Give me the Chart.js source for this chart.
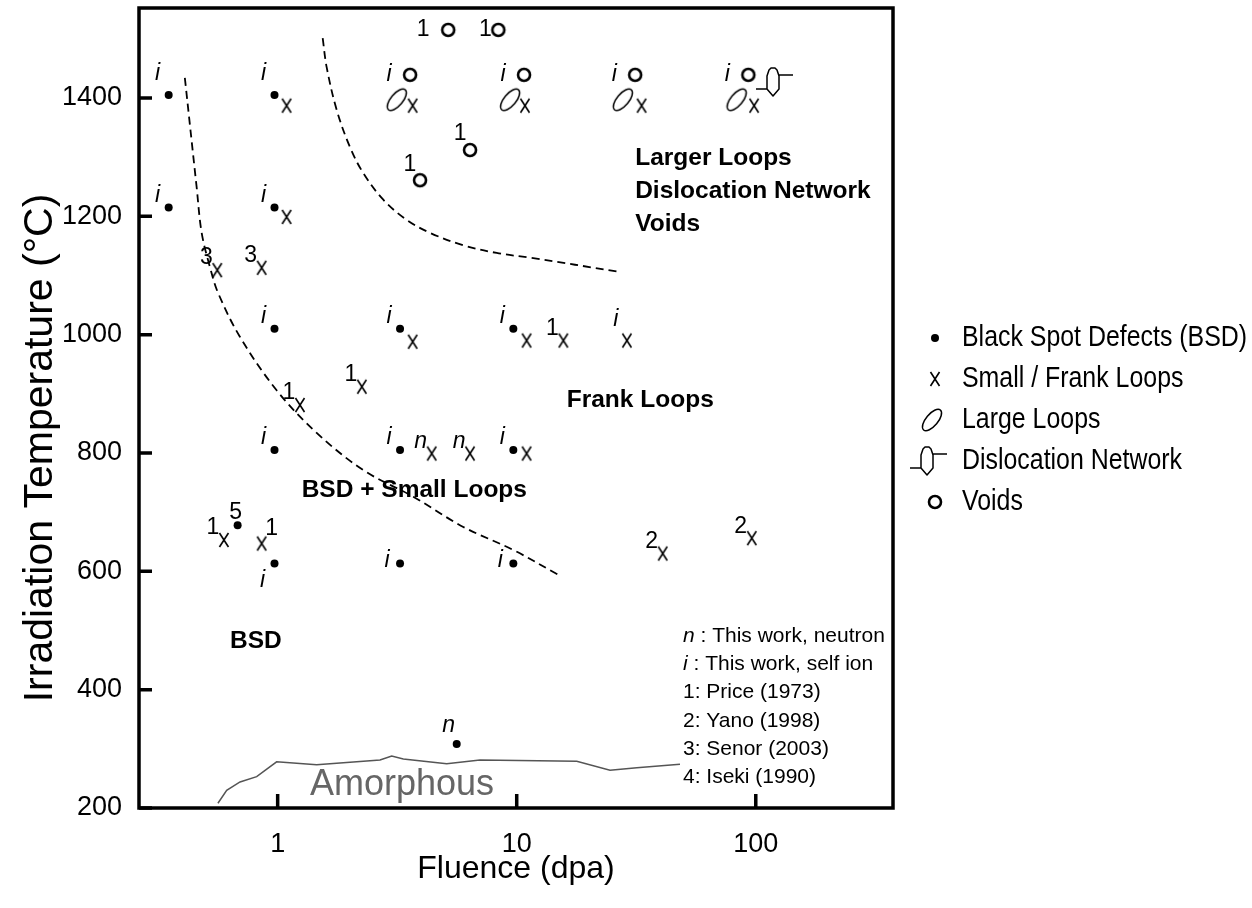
<!DOCTYPE html>
<html lang="en">
<head>
<meta charset="UTF-8">
<title>Irradiation Temperature vs Fluence</title>
<script src="https://cdn.jsdelivr.net/npm/chart.js"></script>
<style>
  html, body { margin: 0; padding: 0; background: #ffffff; }
  #chart { display: block; }
</style>
</head>
<body>
<canvas id="chart" width="1252" height="908"></canvas>
<script>
// fluence (dpa) and irradiation temperature (C) for each observed defect type
const bsdX = [0.35, 0.97, 0.35, 0.97, 0.97, 3.25, 9.68, 0.97, 3.25, 9.68, 0.68, 0.97, 3.25, 9.68, 5.61];
const bsdY = [1405, 1405, 1215, 1215, 1010, 1010, 1010, 805, 805, 805, 678, 613, 613, 613, 308];
const bsdTag = ['i', 'i', 'i', 'i', 'i', 'i', 'i', 'i', 'i', 'i', '5', 'i', 'i', 'i', 'n'];
const bsdTagAt = ['nwh', 'nwh', 'nw', 'nw', 'nw', 'nw', 'nw', 'nw', 'nw', 'nw', 'n', 'sw', 'w', 'w', 'nn'];

const loopX = [1.09, 3.67, 10.83, 33.3, 98.4, 1.09, 0.559, 0.857, 3.67, 11.0, 15.67, 28.9, 2.25, 1.24, 4.41, 6.38, 11.0, 0.596, 0.857, 40.8, 96.2];
const loopY = [1387, 1387, 1387, 1387, 1387, 1199, 1109, 1113, 988, 990, 990, 990, 912, 881, 799, 799, 799, 653, 647, 630, 656];
const loopTag = ['', '', '', '', '', '', '3', '3', '', '', '1', 'i', '1', '1', 'n', 'n', '', '1', '1', '2', '2'];
const loopTagAt = ['', '', '', '', '', '', 'nw', 'nw', '', '', 'nw', 'nwh', 'nw', 'nw', 'nw', 'nw', '', 'nw', 'ne', 'nw', 'nw'];

const largeX = [3.15, 9.38, 27.8, 83.2];
const largeY = [1397, 1397, 1397, 1397];

const netX = [118];
const netY = [1427];

const voidX = [3.58, 10.73, 31.3, 93.1, 5.17, 8.38, 6.38, 3.94];
const voidY = [1439, 1439, 1439, 1439, 1515, 1515, 1312, 1261];
const voidTag = ['i', 'i', 'i', 'i', '1', '1', '1', '1'];
const voidTagAt = ['w2', 'w2', 'w2', 'w2', 'w3', 'w1', 'nwv', 'nwv'];

// regime boundaries and the amorphization limit
const upperBoundX = [1.543, 1.603, 1.765, 2.006, 2.281, 2.766, 3.465, 4.337, 5.977, 8.25, 11.37, 27.05];
const upperBoundY = [1501, 1452, 1380, 1317, 1273, 1228, 1194, 1172, 1151, 1138, 1130, 1106];
const lowerBoundX = [0.409, 0.458, 0.481, 0.521, 0.564, 0.696, 0.990, 1.456, 2.281, 3.693, 5.977, 9.68, 14.93];
const lowerBoundY = [1434, 1250, 1172, 1114, 1070, 996, 906, 834, 771, 726, 675, 636, 594];
const amorphX = [0.5625, 0.612, 0.696, 0.817, 0.990, 1.456, 2.68, 3.0, 3.354, 5.095, 7.02, 17.83, 24.56, 31.8, 48.2];
const amorphY = [208, 230, 244, 253, 278, 273, 281, 288, 283, 275, 281, 279, 264, 268, 274];

const xTicks = [1, 10, 100];
const xTickLabels = ['1', '10', '100'];
const yTicks = [200, 400, 600, 800, 1000, 1200, 1400];
const yTickLabels = ['200', '400', '600', '800', '1000', '1200', '1400'];

const legendLabels = ['Black Spot Defects (BSD)', 'Small / Frank Loops', 'Large Loops', 'Dislocation Network', 'Voids'];

const regionText = [['Larger Loops', 'Dislocation Network', 'Voids'], ['Frank Loops'], ['BSD + Small Loops'], ['BSD']];
const regionX = [31.3, 16.19, 1.26, 0.632];
const regionY = [1287, 878, 726, 470];
const amorphLabel = 'Amorphous';
const amorphLabelX = 1.365;
const amorphLabelY = 222;

const noteKeys = ['n', 'i', '1:', '2:', '3:', '4:'];
const noteText = [' : This work, neutron', ' : This work, self ion', ' Price (1973)', ' Yano (1998)', ' Senor (2003)', ' Iseki (1990)'];
const noteX = 49.6;
const noteY = 481;

// where a point's source tag sits relative to the marker (px)
const tagOffsets = {
  nw: [-11, -12], nwh: [-11, -21], nn: [-8, -18], n: [-2, -13], sw: [-12, 17],
  w: [-13, -3], ne: [10, -15], w1: [-13, 0], w2: [-21, 0], w3: [-25, 0], nwv: [-10, -16]
};

const SANS = '"Liberation Sans", Arial, sans-serif';

function glyph(w, h, draw) {
  const c = document.createElement('canvas');
  c.width = w;
  c.height = h;
  const g = c.getContext('2d');
  g.translate(w / 2, h / 2);
  g.strokeStyle = '#000';
  g.lineJoin = 'round';
  draw(g);
  return c;
}

const crossMark = glyph(12, 18, g => {
  g.lineWidth = 1.6;
  g.beginPath();
  g.moveTo(-4.5, -7); g.lineTo(4.5, 7);
  g.moveTo(4.5, -7); g.lineTo(-4.5, 7);
  g.stroke();
});

const loopMark = glyph(32, 32, g => {
  g.lineWidth = 1.5;
  g.beginPath();
  g.ellipse(0, 0, 13, 6, -50 * Math.PI / 180, 0, 2 * Math.PI);
  g.stroke();
});

const voidMark = glyph(18, 18, g => {
  g.lineWidth = 2.6;
  g.beginPath();
  g.arc(0, 0, 6, 0, 2 * Math.PI);
  g.stroke();
});

const netMark = glyph(46, 34, g => {
  g.lineWidth = 1.5;
  g.beginPath();
  g.moveTo(-6, -6); g.lineTo(-4, -12); g.lineTo(-2, -14); g.lineTo(2, -14); g.lineTo(4, -12); g.lineTo(6, -6);
  g.lineTo(6, 7); g.lineTo(0, 14); g.lineTo(-6, 7); g.closePath();
  g.moveTo(-6, 7); g.lineTo(-17, 7);
  g.moveTo(6, -7); g.lineTo(20, -7);
  g.stroke();
});

function pts(xs, ys) {
  return xs.map((x, i) => ({ x: x, y: ys[i] }));
}

const markerSet = (label, xs, ys, style, extra) => Object.assign({
  type: 'scatter',
  label: label,
  data: pts(xs, ys),
  pointStyle: style,
  pointRadius: 6,
  pointBorderWidth: 0,
  backgroundColor: '#000',
  borderColor: '#000'
}, extra || {});

const datasets = [
  markerSet(legendLabels[0], bsdX, bsdY, 'circle', { pointRadius: 4, tags: bsdTag, tagAt: bsdTagAt }),
  markerSet(legendLabels[1], loopX, loopY, crossMark, { tags: loopTag, tagAt: loopTagAt }),
  markerSet(legendLabels[2], largeX, largeY, loopMark),
  markerSet(legendLabels[3], netX, netY, netMark),
  markerSet(legendLabels[4], voidX, voidY, voidMark, { tags: voidTag, tagAt: voidTagAt }),
  {
    type: 'line', label: 'upper boundary', data: pts(upperBoundX, upperBoundY),
    borderColor: '#000', borderWidth: 1.8, borderDash: [8, 5], pointRadius: 0, tension: 0.35, fill: false
  },
  {
    type: 'line', label: 'lower boundary', data: pts(lowerBoundX, lowerBoundY),
    borderColor: '#000', borderWidth: 1.8, borderDash: [8, 5], pointRadius: 0, tension: 0.35, fill: false
  },
  {
    type: 'line', label: 'amorphous limit', data: pts(amorphX, amorphY),
    borderColor: '#555', borderWidth: 1.5, pointRadius: 0, tension: 0, fill: false
  }
];

const figureExtras = {
  id: 'figureExtras',
  afterDatasetsDraw(chart) {
    const ctx = chart.ctx;
    const a = chart.chartArea;
    const xs = chart.scales.x;
    const ys = chart.scales.y;
    ctx.save();

    // frame and inward ticks
    ctx.strokeStyle = '#000';
    ctx.lineWidth = 3.5;
    ctx.strokeRect(a.left, a.top, a.right - a.left, a.bottom - a.top);
    ctx.beginPath();
    yTicks.forEach(v => {
      const py = ys.getPixelForValue(v);
      ctx.moveTo(a.left, py); ctx.lineTo(a.left + 13, py);
    });
    xTicks.forEach(v => {
      const px = xs.getPixelForValue(v);
      ctx.moveTo(px, a.bottom); ctx.lineTo(px, a.bottom - 14);
    });
    ctx.stroke();

    // source tags next to the markers
    ctx.fillStyle = '#000';
    ctx.textAlign = 'center';
    ctx.textBaseline = 'middle';
    chart.data.datasets.forEach((ds, i) => {
      if (!ds.tags) return;
      chart.getDatasetMeta(i).data.forEach((el, j) => {
        const t = ds.tags[j];
        if (!t) return;
        const off = tagOffsets[ds.tagAt[j]];
        ctx.font = (t === 'i' || t === 'n' ? 'italic ' : '') + '23px ' + SANS;
        ctx.fillText(t, el.x + off[0], el.y + off[1]);
      });
    });

    // regime names
    ctx.textAlign = 'left';
    ctx.textBaseline = 'alphabetic';
    ctx.font = 'bold 24.5px ' + SANS;
    regionText.forEach((lines, k) => {
      const px = xs.getPixelForValue(regionX[k]);
      const py = ys.getPixelForValue(regionY[k]);
      lines.forEach((s, l) => ctx.fillText(s, px, py + l * 33.3));
    });
    ctx.fillStyle = '#666';
    ctx.font = '36px ' + SANS;
    ctx.fillText(amorphLabel, xs.getPixelForValue(amorphLabelX), ys.getPixelForValue(amorphLabelY));

    // data source key
    ctx.fillStyle = '#000';
    const nx = xs.getPixelForValue(noteX);
    const ny = ys.getPixelForValue(noteY);
    noteKeys.forEach((key, k) => {
      const by = ny + k * 28.3;
      ctx.font = (key === 'n' || key === 'i' ? 'italic ' : '') + '21px ' + SANS;
      ctx.fillText(key, nx, by);
      const w = ctx.measureText(key).width;
      ctx.font = '21px ' + SANS;
      ctx.fillText(noteText[k], nx + w, by);
    });

    // y axis title
    ctx.save();
    ctx.translate(52, 448);
    ctx.rotate(-Math.PI / 2);
    ctx.textAlign = 'center';
    ctx.font = '41px ' + SANS;
    ctx.fillText('Irradiation Temperature (\u00B0C)', 0, 0);
    ctx.restore();

    // legend (narrow lettering)
    const lx = a.right + 42;
    ctx.font = '30px ' + SANS;
    ctx.textBaseline = 'middle';
    legendLabels.forEach((s, k) => {
      const cy = 338 + k * 41;
      const style = chart.data.datasets[k].pointStyle;
      if (style === 'circle') {
        ctx.beginPath();
        ctx.arc(lx, cy, 4, 0, 2 * Math.PI);
        ctx.fill();
      } else {
        const dx = style === netMark ? -8 : (style === loopMark ? -3 : 0);
        ctx.drawImage(style, lx + dx - style.width / 2, cy - style.height / 2);
      }
      ctx.save();
      ctx.translate(a.right + 69, cy);
      ctx.scale(0.83, 1);
      ctx.fillText(s, 0, 0);
      ctx.restore();
    });
    ctx.restore();
  }
};

new Chart(document.getElementById('chart'), {
  data: { datasets: datasets },
  options: {
    responsive: false,
    animation: false,
    events: [],
    layout: { padding: { top: 8, right: 359, left: 0, bottom: 0 } },
    scales: {
      x: {
        type: 'logarithmic',
        min: 0.263,
        max: 375,
        grid: { display: false, drawTicks: false },
        border: { display: false },
        afterFit: s => { s.height = 100; s.paddingLeft = 0; s.paddingRight = 0; },
        afterBuildTicks: s => { s.ticks = xTicks.map(v => ({ value: v })); },
        ticks: {
          autoSkip: false,
          maxRotation: 0,
          padding: 20,
          color: '#000',
          font: { family: SANS, size: 27 },
          callback: v => xTickLabels[xTicks.indexOf(v)]
        },
        title: {
          display: true,
          text: 'Fluence (dpa)',
          color: '#000',
          font: { family: SANS, size: 32 },
          padding: { top: 0, bottom: 20 }
        }
      },
      y: {
        type: 'linear',
        min: 200,
        max: 1552,
        grid: { display: false, drawTicks: false },
        border: { display: false },
        // the top/bottom label allowance would push the plot frame down
        afterFit: s => { s.width = 139; s.paddingTop = 0; s.paddingBottom = 0; },
        afterBuildTicks: s => { s.ticks = yTicks.map(v => ({ value: v })); },
        ticks: {
          padding: 17,
          color: '#000',
          font: { family: SANS, size: 27 },
          callback: v => yTickLabels[yTicks.indexOf(v)]
        }
      }
    },
    plugins: {
      legend: { display: false },
      tooltip: { enabled: false }
    }
  },
  plugins: [figureExtras]
});
</script>
</body>
</html>
